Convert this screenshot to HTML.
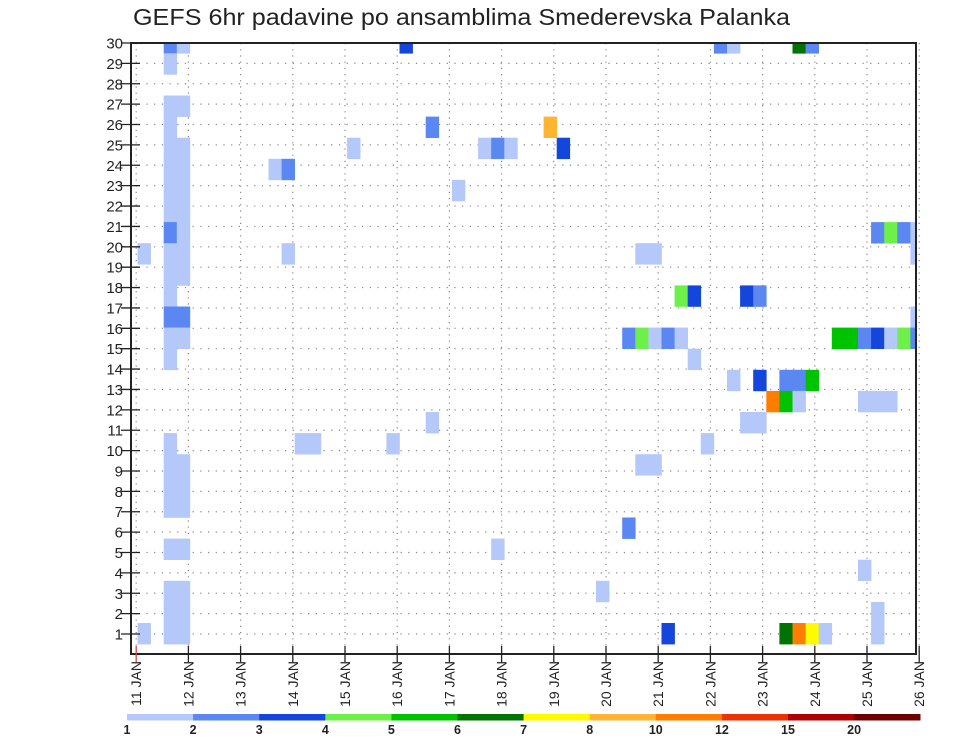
<!DOCTYPE html>
<html><head><meta charset="utf-8"><style>
html,body{margin:0;padding:0;background:#fff;}
svg{display:block;font-family:"Liberation Sans",sans-serif;}
</style></head><body>
<svg id="chart" width="960" height="742" viewBox="0 0 960 742">
<text x="133" y="25" font-size="23" textLength="657" lengthAdjust="spacingAndGlyphs" fill="#222">GEFS 6hr padavine po ansamblima Smederevska Palanka</text>
<defs><clipPath id="plotclip"><rect x="131" y="43" width="785" height="611"/></clipPath></defs>
<g id="grid"></g>
<g id="cells" clip-path="url(#plotclip)"></g>
<rect x="131" y="43" width="785" height="611" fill="none" stroke="#222" stroke-width="2"/>
<g id="yaxis"></g>
<g id="xaxis"></g>
<g id="legend"></g>
</svg>
<script>
const memberLabels = [1,2,3,4,5,6,7,8,9,10,11,12,13,14,15,16,17,18,19,20,21,22,23,24,25,26,27,28,29,30];
const dayLabels = ["11 JAN","12 JAN","13 JAN","14 JAN","15 JAN","16 JAN","17 JAN","18 JAN","19 JAN","20 JAN","21 JAN","22 JAN","23 JAN","24 JAN","25 JAN","26 JAN"];
const legendBounds = [1,2,3,4,5,6,7,8,10,12,15,20];
const legendColors = ["#b4c8fa","#5a87f2","#1446dc","#6ef04a","#00c300","#007300","#fffa00","#ffb432","#ff7d00","#eb3200","#af0000","#6e0000"];
const cellBand = [0,0,0,0,0,0,0, 1, 3,3, 4,4,4, 5,5,5,5,5,5,5, 6,6,6,6, 7,7,7, 8,8, 9,9,9,9,9,9, 10,10,10,10,10,10,10, 11,11, 12,12,12,12,12, 13,13,13, 14,14,14,14,14,14,14,14,14,14,14,14,14,14, 15,15, 16,16,16,16,16, 17,17,17,17,17,17, 18,18,18, 19,19,19,19,19, 20,20,20,20, 21,21, 22,22, 23, 24,24,24, 25, 26,26,26, 27,27,27, 28,28,28,28,28,28,28,28,28];
const cellCol  = [2,3,20,44,45,50,51, 2, 2,3, 2,22,31, 2,3,16,26,27,28,32, 2,3,10,11, 2,3,24, 2,3, 2,3,56,57,58,59, 0,2,3,11,38,39,59, 2,3, 2,41,42,46,47, 2,3,59, 2,3,37,38,39,40,41,53,54,55,56,57,58,59, 2,42, 45,47,49,50,51, 48,49,50,55,56,57, 22,46,47, 2,12,13,19,43, 2,3,38,39, 2,3, 2,3, 37, 2,3,27, 55, 2,3,35, 2,3,56, 0,2,3,40,49,50,51,52,56,57];
const cellVal  = [2.5,1.5,3.5,2.5,1.5,6.5,2.5, 1.5, 1.5,1.5, 1.5,2.5,9, 1.5,1.5,1.5,1.5,2.5,1.5,3.5, 1.5,1.5,1.5,2.5, 1.5,1.5,1.5, 1.5,1.5, 2.5,1.5,2.5,4.5,2.5,1.5, 1.5,1.5,1.5,1.5,1.5,1.5,1.5, 1.5,1.5, 1.5,4.5,3.5,3.5,2.5, 2.5,2.5,1.5, 1.5,1.5,2.5,4.5,1.5,2.5,1.5,5.5,5.5,2.5,3.5,1.5,4.5,2.5, 1.5,1.5, 1.5,3.5,2.5,2.5,5.5, 11,5.5,1.5,1.5,1.5,1.5, 1.5,1.5,1.5, 1.5,1.5,1.5,1.5,1.5, 1.5,1.5,1.5,1.5, 1.5,1.5, 1.5,1.5, 2.5, 1.5,1.5,1.5, 1.5, 1.5,1.5,1.5, 1.5,1.5,1.5, 1.5,1.5,1.5,3.5,6.5,11,7.5,1.5,1.5,1.5];

const NS="http://www.w3.org/2000/svg";
const PL=131, PT=43, PR=916, PB=654;
const X0=136.2, DAYW=52.2;
const COL0=137.5, COLW=13.1;
const BAND0=32.2, BANDH=21.1;
const ROWY=(m)=>43+(30-m)*20.38;
const dayX=(d)=>X0+d*DAYW;
const colX=(c)=>COL0+c*COLW;
const bandY=(j)=>BAND0+j*BANDH;
function colorFor(v){let k=0;for(let i=0;i<legendBounds.length;i++){if(v>=legendBounds[i])k=i;}return legendColors[k];}
function mk(tag,attrs,parent){const e=document.createElementNS(NS,tag);for(const a in attrs)e.setAttribute(a,attrs[a]);parent.appendChild(e);return e;}

const grid=document.getElementById('grid');
memberLabels.forEach(m=>{
  const y=ROWY(m);
  const l=mk('line',{x1:PL,x2:PR,y1:y,y2:y,stroke:'#888','stroke-width':1.2,'stroke-dasharray':'1.2,6.5'},grid);
  
  
});
dayLabels.forEach((d,i)=>{
  const x=dayX(i);
  const l=mk('line',{x1:x,x2:x,y1:PT,y2:PB,stroke:'#888','stroke-width':1.2,'stroke-dasharray':'1.2,5'},grid);
  
  
});

const cells=document.getElementById('cells');
for(let i=0;i<cellBand.length;i++){
  const r=mk('rect',{x:colX(cellCol[i]),y:bandY(cellBand[i]),width:COLW+0.3,height:BANDH+0.3,fill:colorFor(cellVal[i])},cells);
  
  
}

const ya=document.getElementById('yaxis');
memberLabels.forEach(m=>{
  const y=ROWY(m);
  const t=mk('line',{x1:121,x2:140,y1:y,y2:y,stroke:'#222','stroke-width':1.3},ya);
  
  
  const tx=mk('text',{x:123,y:y+5.5,'font-size':15,'text-anchor':'end',fill:'#222'},ya);
  tx.textContent=String(m);
  
  
});

const xa=document.getElementById('xaxis');
dayLabels.forEach((d,i)=>{
  const x=dayX(i);
  const t=mk('line',{x1:x,x2:x,y1:646,y2:662,stroke:i===0?'#c44':'#222','stroke-width':1.3},xa);
  
  
  const tx=mk('text',{x:0,y:0,'font-size':14,'text-anchor':'end',fill:'#222',transform:'translate('+(x+5)+',661) rotate(-90)'},xa);
  tx.textContent=d;
  
  
});

const lg=document.getElementById('legend');
const LX0=127, LW=66.1;
legendColors.forEach((c,i)=>{
  const r=mk('rect',{x:LX0+i*LW,y:714,width:LW+0.3,height:6.5,fill:c},lg);
  
  
});
legendBounds.forEach((b,i)=>{
  const t=mk('text',{x:LX0+i*LW,y:734,'font-size':12.5,'font-weight':'bold','text-anchor':'middle',fill:'#222'},lg);
  t.textContent=String(b);
  
  
});
</script>
</body></html>
